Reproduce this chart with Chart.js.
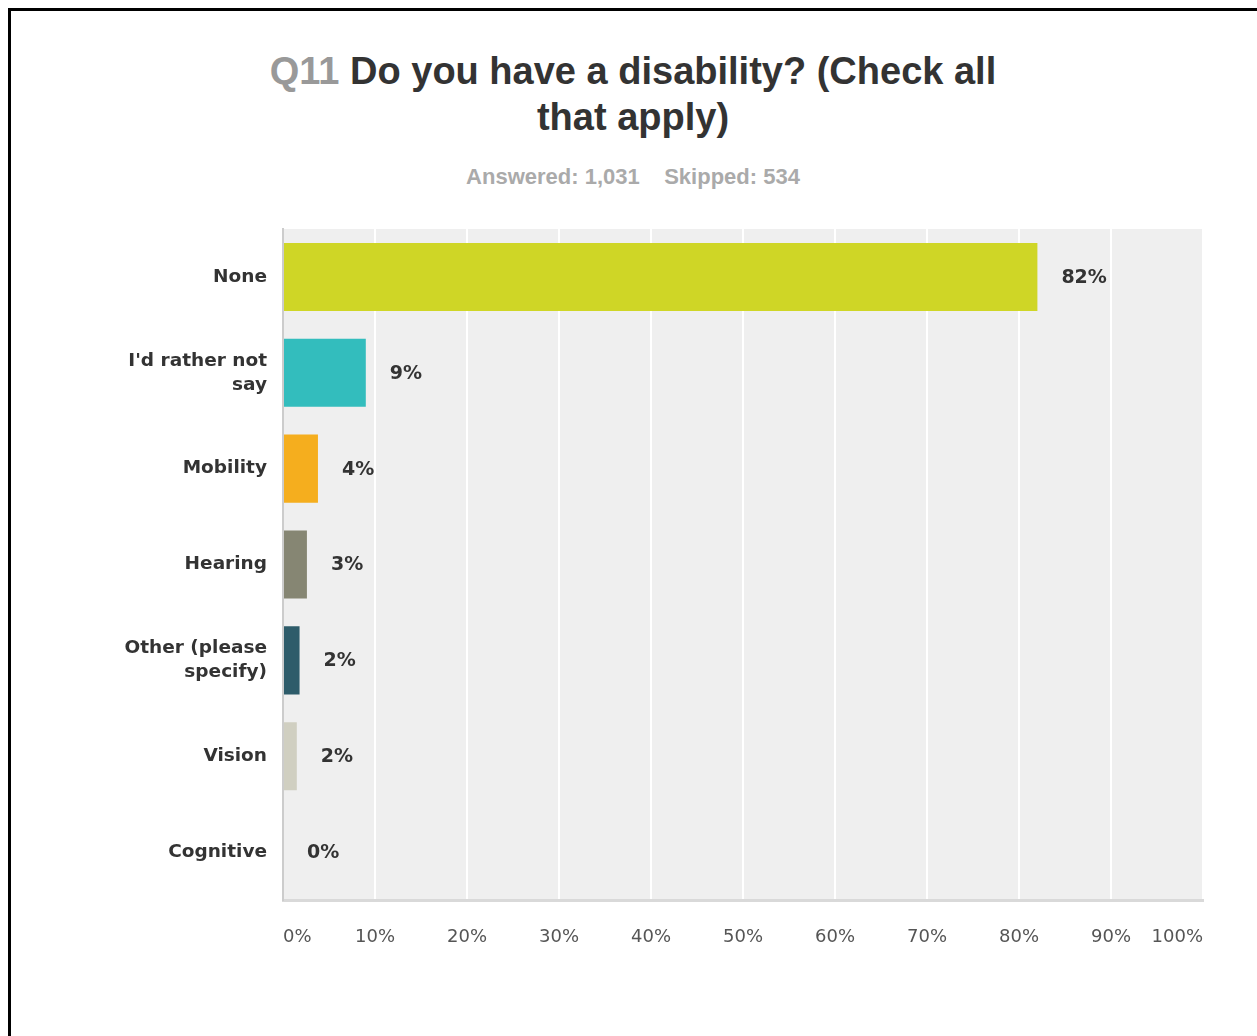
<!DOCTYPE html>
<html>
<head>
<meta charset="utf-8">
<script src="https://cdn.jsdelivr.net/npm/chart.js@4"></script>
<style>
  html, body { margin: 0; padding: 0; background: #fff; width: 1257px; height: 1036px; overflow: hidden; }
  #frame { position: absolute; left: 8px; top: 8px; width: 1400px; height: 1200px; border-left: 3px solid #000; border-top: 3px solid #000; }
  #title { position: absolute; left: 9px; width: 1248px; top: 48px; text-align: center; font-family: "Liberation Sans Narrow", "Liberation Sans", Arial, sans-serif; font-weight: bold; font-size: 38px; line-height: 46px; color: #333; white-space: nowrap; }
  #title .q { color: #999; }
  #sub { position: absolute; left: 9px; width: 1248px; top: 164px; text-align: center; font-family: "Liberation Sans Narrow", "Liberation Sans", Arial, sans-serif; font-weight: bold; font-size: 22px; color: #aaa; white-space: pre; }
  #wrap { position: absolute; left: 0; top: 0; width: 1257px; height: 1036px; }
</style>
</head>
<body>
<div id="frame"></div>
<div id="title"><span class="q">Q11</span> Do you have a disability? (Check all<br>that apply)</div>
<div id="sub">Answered: 1,031    Skipped: 534</div>
<div id="wrap"><canvas id="c" width="1257" height="1036"></canvas></div>
<script>
const categories = ["None", ["I'd rather not", "say"], "Mobility", "Hearing", ["Other (please", "specify)"], "Vision", "Cognitive"];
const values = [82.0, 9.0, 3.8, 2.6, 1.8, 1.5, 0];
const barColors = ["#cfd626", "#33bdbd", "#f5ae1e", "#868673", "#2e5c6a", "#d0cfc1", "#999999"];
const tickValues = [0, 10, 20, 30, 40, 50, 60, 70, 80, 90, 100];

const bgPlugin = {
  id: 'plotBg',
  beforeDraw(chart) {
    const a = chart.chartArea, ctx = chart.ctx;
    ctx.save();
    ctx.fillStyle = '#efefef';
    ctx.fillRect(a.left, a.top, a.right - a.left, a.bottom - a.top);
    ctx.restore();
  }
};
const labelPlugin = {
  id: 'valLabels',
  afterDatasetsDraw(chart) {
    const ctx = chart.ctx;
    const meta = chart.getDatasetMeta(0);
    ctx.save();
    ctx.font = 'bold 19px "DejaVu Sans", Verdana, sans-serif';
    ctx.fillStyle = '#333';
    ctx.textAlign = 'left';
    ctx.textBaseline = 'middle';
    meta.data.forEach((bar, i) => {
      ctx.fillText(Math.round(values[i]) + '%', bar.x + 24, bar.y + 1);
    });
    ctx.restore();
  }
};

new Chart(document.getElementById('c'), {
  type: 'bar',
  data: {
    labels: categories,
    datasets: [{
      data: values,
      backgroundColor: barColors,
      borderWidth: 0,
      barPercentage: 0.71,
      categoryPercentage: 1.0
    }]
  },
  options: {
    indexAxis: 'y',
    responsive: false,
    animation: false,
    events: [],
    layout: { padding: { top: 229, right: 54, left: 0, bottom: 0 } },
    plugins: { legend: { display: false }, tooltip: { enabled: false }, title: { display: false } },
    scales: {
      x: {
        min: 0, max: 100,
        afterFit(s) { s.height = 136; },
        afterBuildTicks(s) { s.ticks = tickValues.map(v => ({ value: v })); },
        grid: { color: '#ffffff', lineWidth: 2, drawTicks: false },
        border: { color: '#d9d9d9', width: 3 },
        ticks: {
          align: 'inner',
          padding: 27,
          color: '#555',
          font: { family: '"DejaVu Sans", Verdana, sans-serif', size: 18 },
          callback: (v) => v + '%'
        }
      },
      y: {
        afterFit(s) { s.width = 283; },
        grid: { display: false, drawTicks: false },
        border: { color: '#cccccc', width: 2 },
        ticks: {
          padding: 16,
          color: '#333',
          font: { family: '"DejaVu Sans", Verdana, sans-serif', size: 18.5, weight: 'bold', lineHeight: 1.3 }
        }
      }
    }
  },
  plugins: [bgPlugin, labelPlugin]
});
</script>
</body>
</html>
